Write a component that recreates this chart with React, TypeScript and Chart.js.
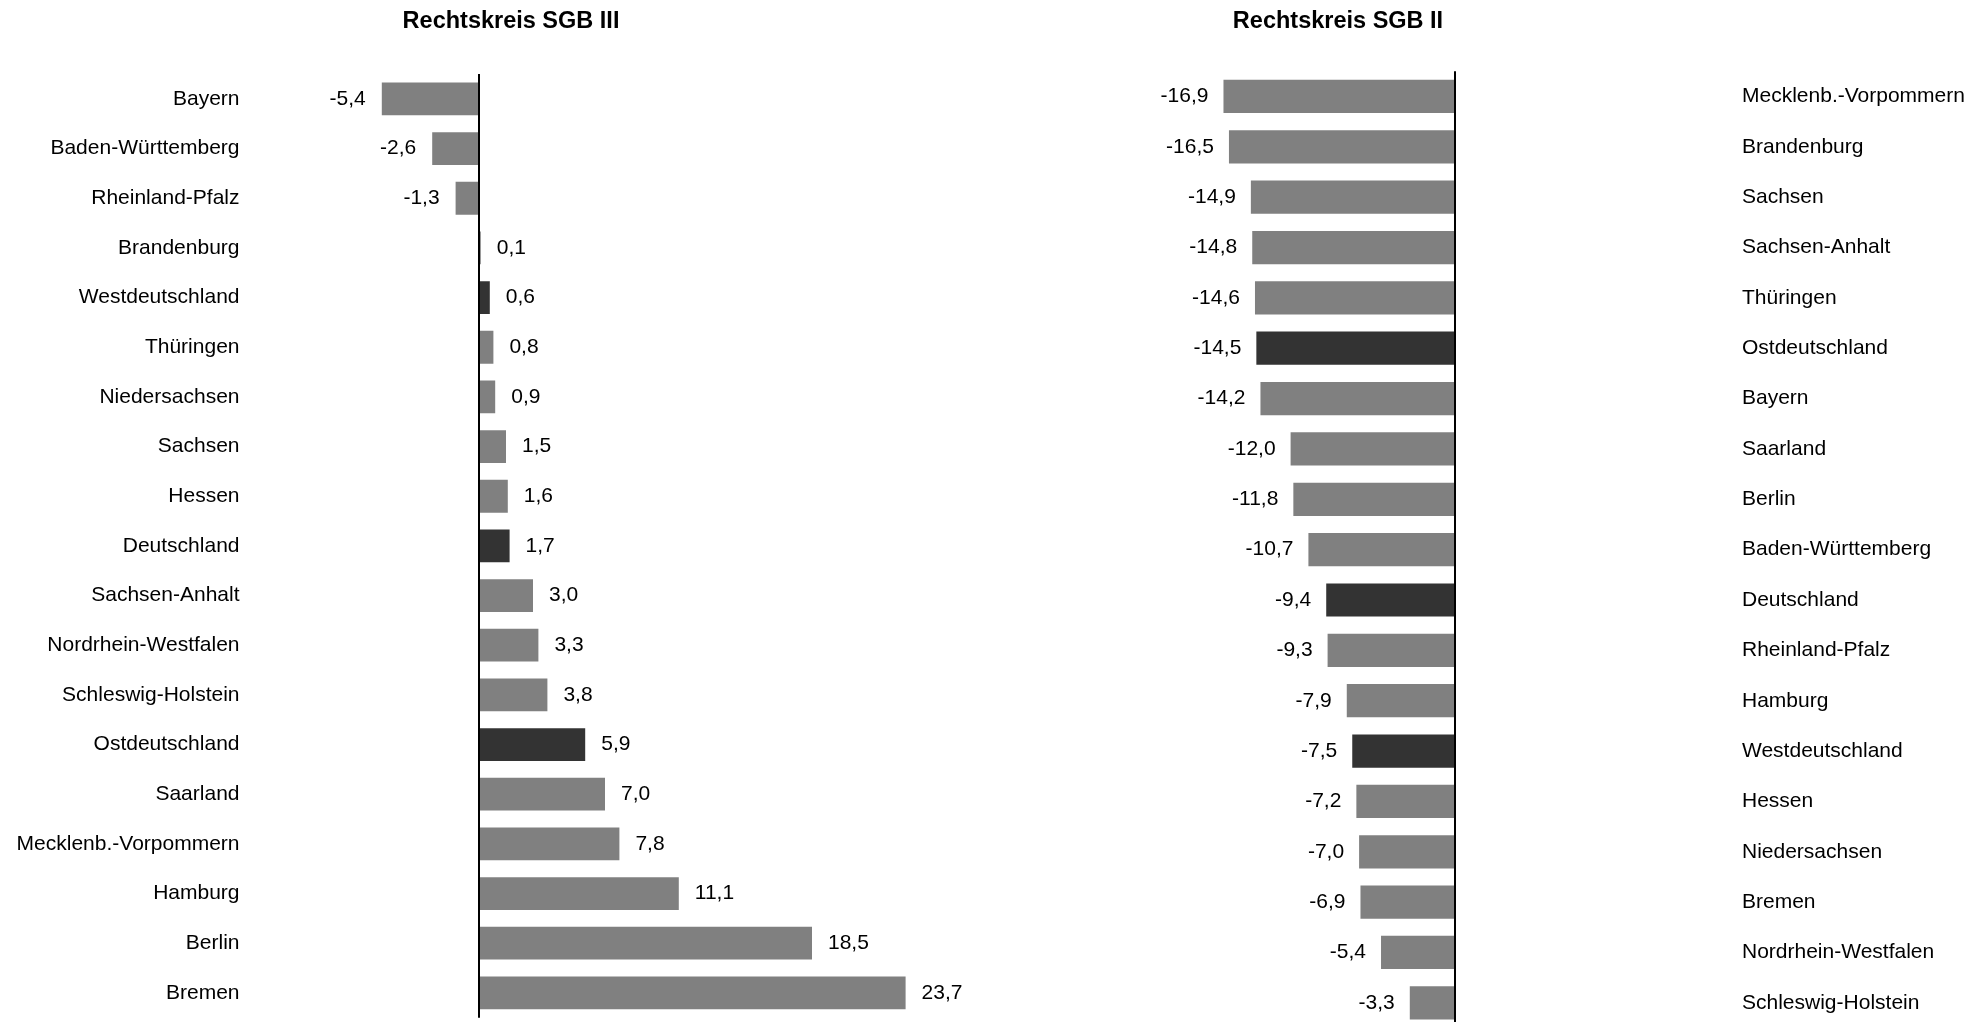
import React, { useEffect, useRef } from "react";
import { Chart, registerables } from "chart.js";

Chart.register(...registerables);

const sgb3Categories = [
  "Bayern", "Baden-Württemberg", "Rheinland-Pfalz", "Brandenburg", "Westdeutschland",
  "Thüringen", "Niedersachsen", "Sachsen", "Hessen", "Deutschland", "Sachsen-Anhalt",
  "Nordrhein-Westfalen", "Schleswig-Holstein", "Ostdeutschland", "Saarland",
  "Mecklenb.-Vorpommern", "Hamburg", "Berlin", "Bremen",
];
const sgb3Values = [-5.4, -2.6, -1.3, 0.1, 0.6, 0.8, 0.9, 1.5, 1.6, 1.7, 3.0, 3.3, 3.8, 5.9, 7.0, 7.8, 11.1, 18.5, 23.7];

const sgb2Categories = [
  "Mecklenb.-Vorpommern", "Brandenburg", "Sachsen", "Sachsen-Anhalt", "Thüringen",
  "Ostdeutschland", "Bayern", "Saarland", "Berlin", "Baden-Württemberg", "Deutschland",
  "Rheinland-Pfalz", "Hamburg", "Westdeutschland", "Hessen", "Niedersachsen", "Bremen",
  "Nordrhein-Westfalen", "Schleswig-Holstein",
];
const sgb2Values = [-16.9, -16.5, -14.9, -14.8, -14.6, -14.5, -14.2, -12.0, -11.8, -10.7, -9.4, -9.3, -7.9, -7.5, -7.2, -7.0, -6.9, -5.4, -3.3];

const aggregates = ["Deutschland", "Westdeutschland", "Ostdeutschland"];

const FONT = "'Liberation Sans', Arial, sans-serif";
const GREY = "#808080";
const DARK = "#333333";

type PanelProps = {
  title: string;
  titleX: number;
  categories: string[];
  values: number[];
  width: number;
  height: number;
  left: number;
  xMin: number;
  xMax: number;
  labelSide: "left" | "right";
  axisWidth: number;
  labelGap: number;
  padding: { top: number; bottom: number; left: number; right: number };
  gap: number;
};

function Panel(p: PanelProps) {
  const ref = useRef<HTMLCanvasElement | null>(null);
  useEffect(() => {
    if (!ref.current) return;
    const valuePlugin = {
      id: "valueLabels",
      afterDatasetsDraw(chart: any) {
        const ctx = chart.ctx;
        const meta = chart.getDatasetMeta(0);
        const xs = chart.scales.x;
        const area = chart.chartArea;
        ctx.save();
        const zx = Math.round(xs.getPixelForValue(0));
        ctx.strokeStyle = "#000";
        ctx.lineWidth = 2;
        ctx.beginPath();
        ctx.moveTo(zx, area.top);
        ctx.lineTo(zx, area.bottom);
        ctx.stroke();
        ctx.font = `21px ${FONT}`;
        ctx.fillStyle = "#000";
        ctx.textBaseline = "middle";
        meta.data.forEach((el: any, i: number) => {
          const v = p.values[i];
          const txt = v.toFixed(1).replace(".", ",");
          if (v >= 0) {
            ctx.textAlign = "left";
            ctx.fillText(txt, el.x + p.gap, el.y);
          } else {
            ctx.textAlign = "right";
            ctx.fillText(txt, el.x - p.gap, el.y);
          }
        });
        ctx.font = `bold 23.5px ${FONT}`;
        ctx.textAlign = "center";
        ctx.textBaseline = "alphabetic";
        ctx.fillText(p.title, p.titleX, 28);
        ctx.restore();
      },
    };
    const chart = new Chart(ref.current, {
      type: "bar",
      data: {
        labels: p.categories,
        datasets: [
          {
            data: p.values,
            backgroundColor: p.categories.map((c) => (aggregates.includes(c) ? DARK : GREY)),
            borderWidth: 0,
            categoryPercentage: 1,
            barPercentage: 0.66,
          },
        ],
      },
      options: {
        indexAxis: "y",
        responsive: false,
        animation: false,
        layout: { padding: p.padding },
        plugins: { legend: { display: false }, tooltip: { enabled: false }, title: { display: false } },
        scales: {
          x: {
            type: "linear",
            display: false,
            min: p.xMin,
            max: p.xMax,
          },
          y: {
            type: "category",
            position: p.labelSide,
            offset: true,
            grid: { display: false, drawTicks: true, tickLength: p.labelGap },
            border: { display: false },
            ticks: {
              autoSkip: false,
              color: "#000",
              font: { family: FONT, size: 21 },
              padding: 0,
            },
            afterFit: (axis: any) => {
              axis.width = p.axisWidth;
            },
          },
        },
      },
      plugins: [valuePlugin],
    } as any);
    return () => chart.destroy();
  }, []);
  return (
    <canvas
      ref={ref}
      width={p.width}
      height={p.height}
      style={{ position: "absolute", left: p.left, top: 0, width: p.width, height: p.height }}
    />
  );
}

export default function App() {
  return (
    <div
      style={{
        position: "absolute",
        left: 0,
        top: 0,
        width: 1988,
        height: 1022,
        overflow: "hidden",
        background: "#fff",
      }}
    >
      <Panel
        title="Rechtskreis SGB III"
        titleX={511}
        categories={sgb3Categories}
        values={sgb3Values}
        width={1000}
        height={1040}
        left={0}
        xMin={-8}
        xMax={28}
        labelSide="left"
        axisWidth={335}
        labelGap={95.5}
        padding={{ top: 74.1, bottom: 22.3, left: 0, right: 17 }}
        gap={16}
      />
      <Panel
        title="Rechtskreis SGB II"
        titleX={338}
        categories={sgb2Categories}
        values={sgb2Values}
        width={988}
        height={1050}
        left={1000}
        xMin={-20}
        xMax={5}
        labelSide="right"
        axisWidth={464.5}
        labelGap={218.5}
        padding={{ top: 71.3, bottom: 22, left: 181, right: 0 }}
        gap={15}
      />
    </div>
  );
}
